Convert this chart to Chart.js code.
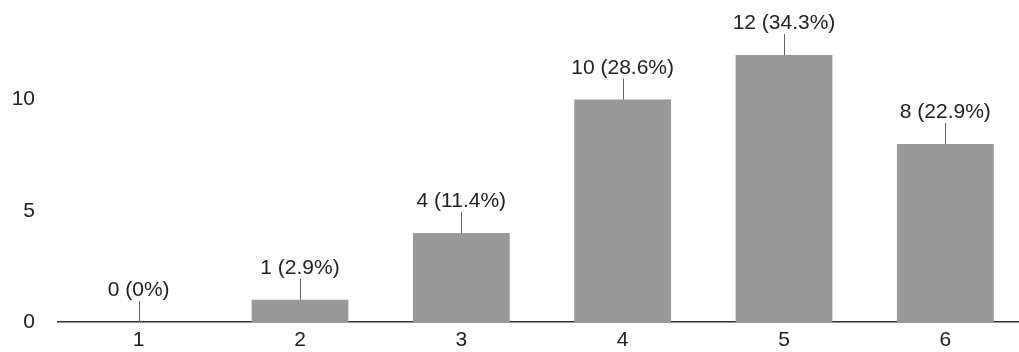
<!DOCTYPE html>
<html>
<head>
<meta charset="utf-8">
<script src="https://cdn.jsdelivr.net/npm/chart.js@4/dist/chart.umd.min.js"></script>
<style>
    html, body { margin: 0; padding: 0; background: #fff; overflow: hidden; }
    #wrap { width: 1019px; height: 352px; overflow: hidden; }
</style>
</head>
<body>
<div id="wrap"><canvas id="graphique" width="1030" height="352"></canvas></div>
<script>
const categories = ['1', '2', '3', '4', '5', '6'];
const counts = [0, 1, 4, 10, 12, 8];
const percents = ['0%', '2.9%', '11.4%', '28.6%', '34.3%', '22.9%'];
const yTicks = [0, 5, 10];

const police = '"Liberation Sans", Arial, sans-serif';

// etiquettes au-dessus des barres avec un petit trait
const etiquettes = {
    id: 'etiquettes',
    afterDatasetsDraw(chart) {
        const ctx = chart.ctx;
        const meta = chart.getDatasetMeta(0);
        ctx.save();
        meta.data.forEach((bar, i) => {
            const x = Math.round(bar.x) + 0.5;
            const y = bar.y;
            ctx.strokeStyle = '#666';
            ctx.lineWidth = 1;
            ctx.beginPath();
            ctx.moveTo(x, y);
            ctx.lineTo(x, y - 21);
            ctx.stroke();
            ctx.fillStyle = '#222';
            ctx.font = '21px ' + police;
            ctx.textAlign = 'center';
            ctx.textBaseline = 'alphabetic';
            ctx.fillText(counts[i] + ' (' + percents[i] + ')', bar.x, y - 26);
        });
        ctx.restore();
    }
};

new Chart(document.getElementById('graphique').getContext('2d'), {
    type: 'bar',
    data: {
        labels: categories,
        datasets: [{
            data: counts,
            backgroundColor: '#999999',
            barPercentage: 0.6,
            categoryPercentage: 1
        }]
    },
    options: {
        responsive: false,
        animation: false,
        layout: { padding: { top: 10.5, right: 4, left: 0, bottom: 0 } },
        plugins: {
            legend: { display: false },
            tooltip: { enabled: false }
        },
        scales: {
            x: {
                grid: { display: false, drawTicks: false },
                border: { display: true, color: '#333', width: 1.5 },
                ticks: { color: '#222', font: { size: 21, family: police }, padding: 6, maxRotation: 0 },
                afterFit(scale) {
                    scale.height = 30;
                    scale.paddingLeft = 0;
                    scale.paddingRight = 0;
                }
            },
            y: {
                min: 0,
                max: 14,
                grid: { display: false, drawTicks: false },
                border: { display: false },
                afterBuildTicks(scale) { scale.ticks = yTicks.map(v => ({ value: v })); },
                ticks: { color: '#222', font: { size: 21, family: police }, padding: 23 },
                afterFit(scale) {
                    scale.width = 58;
                    scale.paddingTop = 0;
                    scale.paddingBottom = 0;
                }
            }
        }
    },
    plugins: [etiquettes]
});
</script>
</body>
</html>
